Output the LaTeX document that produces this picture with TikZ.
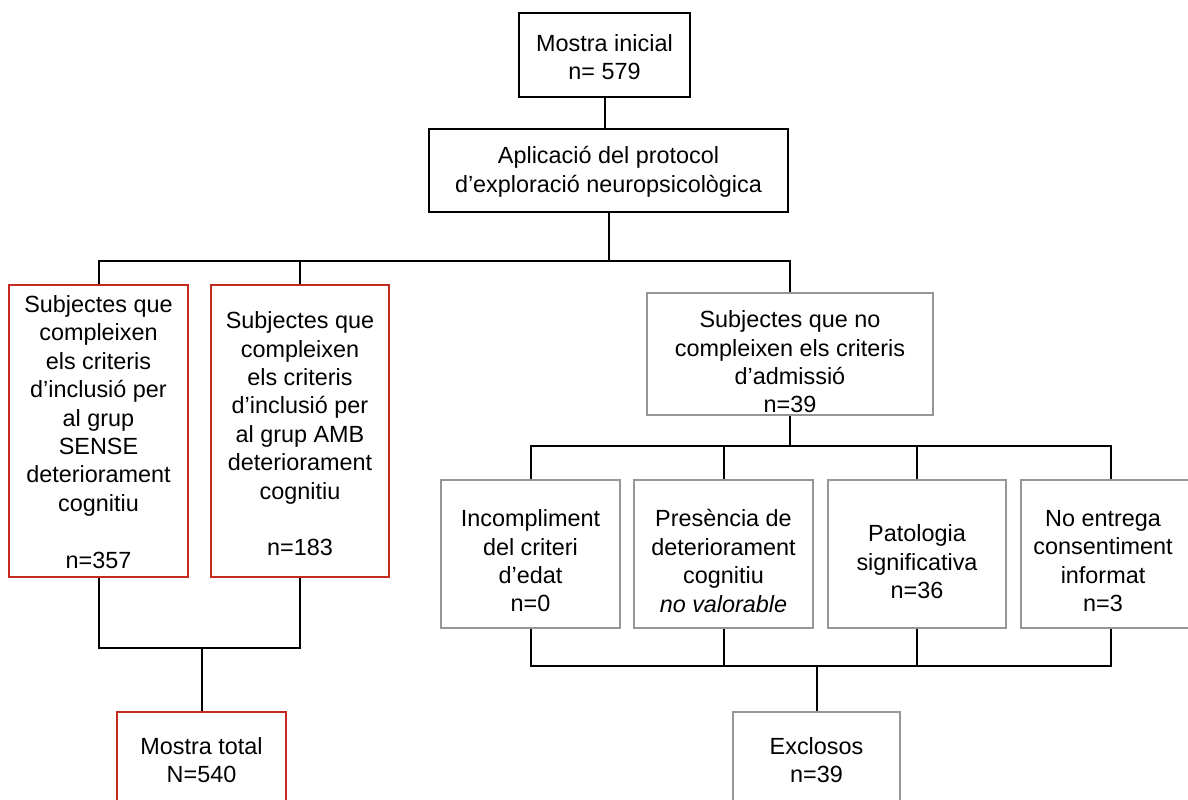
\documentclass[tikz,border=0pt]{standalone}
\usepackage{fontspec}
\setmainfont{Liberation Sans}
\definecolor{boxred}{RGB}{196,42,32}
\definecolor{boxgray}{RGB}{150,150,150}
\begin{document}
\begin{tikzpicture}[x=0.5pt,y=-0.5pt,
  every node/.style={font=\fontsize{11.7pt}{14.2pt}\selectfont, align=center, inner sep=0pt},
  frame/.style={draw, line width=1pt, minimum width=#1},
  blackbox/.style={frame=#1, draw=black},
  redbox/.style={frame=#1, draw=boxred},
  graybox/.style={frame=#1, draw=boxgray},
  wire/.style={line width=1pt, black}]
\useasboundingbox (0,0) rectangle (1188,799);

% top chain
\node[blackbox=85.5pt, minimum height=42pt] (ini) at (604.5,55) {};
\node (iniT) at (604.5,57) {Mostra inicial\\n= 579};
\node[blackbox=179.5pt, minimum height=41.5pt] (apl) at (608.5,170.5) {};
\node (aplT) at (608.5,172) {Aplicació del protocol\\d’exploració neuropsicològica};

% included groups
\node[redbox=89.5pt, minimum height=146pt] (sense) at (98.5,431) {};
\node (senseT) at (98.5,432) {Subjectes que\\compleixen\\els criteris\\d’inclusió per\\al grup\\SENSE\\deteriorament\\cognitiu\\[14.2pt]n=357};
\node[redbox=89pt, minimum height=146pt] (amb) at (300,431) {};
\node (ambT) at (300,434) {Subjectes que\\compleixen\\els criteris\\d’inclusió per\\al grup AMB\\deteriorament\\cognitiu\\[14.2pt]n=183};

% not admitted
\node[graybox=143pt, minimum height=61pt] (noad) at (790,354) {};
\node (noadT) at (790,362) {Subjectes que no\\compleixen els criteris\\d’admissió\\n=39};

% exclusion reasons
\node[graybox=89.5pt, minimum height=74pt] (edat) at (530.5,554) {};
\node (edatT) at (530.5,561) {Incompliment\\del criteri\\d’edat\\n=0};
\node[graybox=89.5pt, minimum height=74pt] (pres) at (723.5,554) {};
\node (presT) at (723.5,561) {Presència de\\deteriorament\\cognitiu\\\textit{no valorable}};
\node[graybox=89pt, minimum height=74pt] (pato) at (917,554) {};
\node (patoT) at (917,562) {Patologia\\significativa\\n=36};
\node[graybox=89.5pt, minimum height=74pt] (cons) at (1110.5,554) {};
\node (consT) at (1103,561) {No entrega\\consentiment\\informat\\n=3};

% final counts
\node[redbox=84.5pt, minimum height=54pt, anchor=north] (total) at (201.5,711) {};
\node (totalT) at (201.5,760) {Mostra total\\N=540};
\node[graybox=83.5pt, minimum height=54pt, anchor=north] (excl) at (816.5,711) {};
\node (exclT) at (816.5,760) {Exclosos\\n=39};

% branch points
\coordinate (b1) at (608.5,261);
\coordinate (b2) at (790,446);
\coordinate (b3) at (201.5,648);
\coordinate (b4) at (816.5,666);

% connectors
\draw[wire] (ini.south) -- (ini.south |- apl.north);
\draw[wire] (apl.south -| b1) -- (b1);
\draw[wire] (sense.north) -- (sense.north |- b1) -- (noad.north |- b1) -- (noad.north);
\draw[wire] (amb.north) -- (amb.north |- b1);
\draw[wire] (noad.south -| b2) -- (b2);
\draw[wire] (edat.north) -- (edat.north |- b2) -- (cons.north |- b2) -- (cons.north);
\draw[wire] (pres.north) -- (pres.north |- b2);
\draw[wire] (pato.north) -- (pato.north |- b2);
\draw[wire] (sense.south) -- (sense.south |- b3) -- (amb.south |- b3) -- (amb.south);
\draw[wire] (b3) -- (total.north);
\draw[wire] (edat.south) -- (edat.south |- b4) -- (cons.south |- b4) -- (cons.south);
\draw[wire] (pres.south) -- (pres.south |- b4);
\draw[wire] (pato.south) -- (pato.south |- b4);
\draw[wire] (b4) -- (excl.north);
\end{tikzpicture}
\end{document}
